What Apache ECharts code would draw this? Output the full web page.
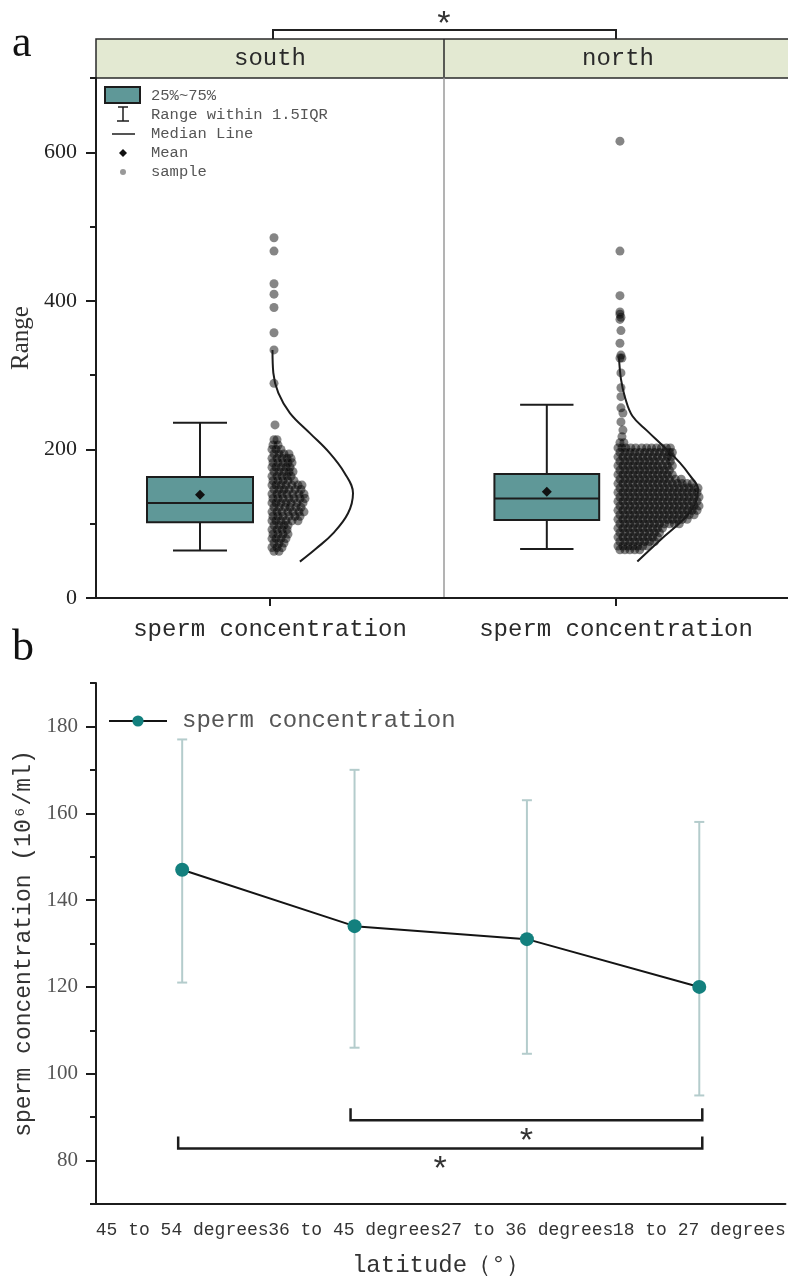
<!DOCTYPE html>
<html><head><meta charset="utf-8">
<script src="https://cdn.jsdelivr.net/npm/echarts@6/dist/echarts.min.js"></script>
<style>html,body{margin:0;padding:0;background:#fff}#main{width:788px;height:1283px}</style>
</head><body><div id="main"></div>
<script>
// ================= DATA =================
// Panel a
const groupNames = ['south', 'north'];
const categoryA = ['sperm concentration'];
const yTicksA = [0, 200, 400, 600];
const yMinorA = [100, 300, 500, 700];
// box stats: [lower whisker, Q1, median, Q3, upper whisker]
const southBox = [64, 102, 128, 163, 236];
const northBox = [66, 105, 134, 167, 260];
const southMean = 139;
const northMean = 143;
// fitted distribution curve: values and relative density
const southCurveValues  = [334, 303, 276, 249, 222, 195, 168, 141, 114, 87, 67, 49];
const southCurveDensity = [0.03, 0.04, 0.10, 0.24, 0.48, 0.72, 0.90, 1.00, 0.94, 0.76, 0.56, 0.36];
const northCurveValues  = [325, 295, 270, 245, 225, 205, 182, 165, 146, 128, 110, 83, 49];
const northCurveDensity = [0.036, 0.06, 0.11, 0.20, 0.38, 0.57, 0.78, 0.90, 1.00, 0.97, 0.86, 0.59, 0.26];
// samples: [value, [jitter offsets of the points at that value]]
const southSampleRows = [
  [485,[4]],[467,[4]],[423,[4]],[409,[4]],[391,[4]],[357,[4]],[334,[4]],[289,[4]],[233,[5]],[213,[4,7]],
  [206,[3,8]],[200,[2,6,11]],[194,[4,9,14,19]],[188,[2,7,12,17,21]],[182,[3,8,13,18,22]],[176,[2,6,11,16,20]],
  [170,[4,9,14,19,23]],[164,[2,7,12,17,21]],[158,[3,8,13,18,24]],[152,[2,6,11,16,22,28,32]],[146,[4,9,14,19,25,31]],
  [140,[2,7,12,17,23,29,34]],[134,[3,8,13,19,24,30,35]],[128,[2,6,11,16,21,27,33]],[122,[4,9,15,20,26,31]],
  [116,[2,7,12,18,23,29,34]],[110,[3,8,13,19,25,30]],[104,[2,6,11,16,22,28]],[98,[4,9,14,18]],[92,[2,7,12,17]],
  [86,[3,8,13,18]],[80,[2,6,11,16]],[74,[4,9,14]],[68,[2,7,12]],[63,[4,9]]
];
const northSampleRows = [
  [615,[4]],[467,[4]],[407,[4]],[385,[4]],[382,[4]],[378,[5]],[375,[4]],[360,[5]],[343,[4]],[327,[5]],
  [323,[4,6]],[303,[5]],[283,[5]],[271,[5]],[256,[5]],[249,[7]],[237,[5]],[226,[7]],[217,[6]],[209,[4,8]],
  [202,[2,6,10,15,20,26,31,36,41,46,51,55]],
  [196,[4,9,14,19,24,29,34,39,44,49,54,57]],
  [190,[2,7,12,17,22,27,32,37,42,47,52,56]],
  [184,[4,9,14,19,24,29,34,39,44,50,55]],
  [178,[2,7,12,17,22,27,32,37,42,47,52,57]],
  [172,[4,9,14,19,24,29,34,39,44,49,54]],
  [166,[2,7,12,17,22,27,32,37,42,47,52,57]],
  [160,[4,9,14,19,24,29,34,39,44,49,54,60,66]],
  [154,[2,7,12,17,22,27,32,37,42,47,52,57,62,67,72,77]],
  [148,[4,9,14,19,24,29,34,39,44,49,54,59,64,69,74,79,83]],
  [142,[2,7,12,17,22,27,32,37,42,47,52,57,62,67,72,77,82]],
  [136,[4,9,14,19,24,29,34,39,44,49,54,59,64,69,74,79,84]],
  [130,[2,7,12,17,22,27,32,37,42,47,52,57,62,67,72,77,82]],
  [124,[4,9,14,19,24,29,34,39,44,49,54,59,64,69,74,79,84]],
  [118,[2,7,12,17,22,27,32,37,42,47,52,57,62,67,72,77,82]],
  [112,[4,9,14,19,24,29,34,39,44,49,54,59,64,69,74,79]],
  [106,[2,7,12,17,22,27,32,37,42,47,52,57,62,67,72]],
  [100,[4,9,14,19,24,29,34,39,44,49,54,59,64]],
  [94,[2,7,12,17,22,27,32,37,42,47]],
  [88,[4,9,14,19,24,29,34,39,44]],
  [82,[2,7,12,17,22,27,32,37,42]],
  [76,[4,9,14,19,24,29,34,39]],
  [70,[2,7,12,17,22,27,32]],
  [65,[4,9,14,19,24]]
];
// Panel b
const latitudes = ['45 to 54 degrees', '36 to 45 degrees', '27 to 36 degrees', '18 to 27 degrees'];
const meanConc = [147, 134, 131, 120];
const errLow  = [121, 106, 104.6, 95];
const errHigh = [177, 170, 163, 158];
const yTicksB = [80, 100, 120, 140, 160, 180];
const yMinorB = [70, 90, 110, 130, 150, 170, 190];
const sigFrom = [1, 0];
const sigTo = [3, 3];
const sigLevel = [89.3, 82.8];
const sigMarks = ['*', '*'];
const legendB = 'sperm concentration';

// ================= STYLE =================
const MONO = 'Liberation Mono';
const SERIF = 'Liberation Serif';
const BOX_COLOR = '#5f9898';
const TEAL = '#13807e';
const ERR_COLOR = '#b4cccc';
const INK = '#1c1c1c';
const DOT = 'rgba(0,0,0,0.6)';
const BOX_X = -70, BOX_HALF = 53, CAP_HALF = 27, CURVE_W = 83;

function rowsToPoints(rows) {
  const pts = [];
  rows.forEach(r => r[1].forEach(j => pts.push([j, r[0]])));
  return pts;
}
function curvePoints(vals, dens) {
  return vals.map((v, i) => [dens[i] * CURVE_W, v]);
}
function renderBox(params, api) {
  const mn = api.value(0), q1 = api.value(1), md = api.value(2), q3 = api.value(3), mx = api.value(4), mean = api.value(5);
  const X = x => api.coord([x, 0])[0];
  const Y = v => api.coord([0, v])[1];
  const xc = X(BOX_X), xl = X(BOX_X - BOX_HALF), xr = X(BOX_X + BOX_HALF);
  const cl = X(BOX_X - CAP_HALF), cr = X(BOX_X + CAP_HALF);
  const s = { stroke: INK, lineWidth: 2 };
  const ym = Y(mean);
  return { type: 'group', children: [
    { type: 'line', shape: { x1: xc, y1: Y(q3), x2: xc, y2: Y(mx) }, style: s },
    { type: 'line', shape: { x1: cl, y1: Y(mx), x2: cr, y2: Y(mx) }, style: s },
    { type: 'line', shape: { x1: xc, y1: Y(q1), x2: xc, y2: Y(mn) }, style: s },
    { type: 'line', shape: { x1: cl, y1: Y(mn), x2: cr, y2: Y(mn) }, style: s },
    { type: 'rect', shape: { x: xl, y: Y(q3), width: xr - xl, height: Y(q1) - Y(q3) }, style: { fill: BOX_COLOR, stroke: INK, lineWidth: 2 } },
    { type: 'line', shape: { x1: xl, y1: Y(md), x2: xr, y2: Y(md) }, style: s },
    { type: 'polygon', shape: { points: [[xc, ym - 5], [xc + 5, ym], [xc, ym + 5], [xc - 5, ym]] }, style: { fill: '#111' } }
  ]};
}
function renderErr(params, api) {
  const i = api.value(0);
  const lo = api.coord([i, api.value(1)]), hi = api.coord([i, api.value(2)]);
  const s = { stroke: ERR_COLOR, lineWidth: 2 };
  return { type: 'group', children: [
    { type: 'line', shape: { x1: lo[0], y1: lo[1], x2: hi[0], y2: hi[1] }, style: s },
    { type: 'line', shape: { x1: lo[0] - 5, y1: lo[1], x2: lo[0] + 5, y2: lo[1] }, style: s },
    { type: 'line', shape: { x1: hi[0] - 5, y1: hi[1], x2: hi[0] + 5, y2: hi[1] }, style: s }
  ]};
}
function renderSig(params, api) {
  const a = api.coord([api.value(0), api.value(2)]);
  const b = api.coord([api.value(1), api.value(2)]);
  const x1 = a[0] - 4, x2 = b[0] + 3, yl = a[1];
  return { type: 'group', children: [
    { type: 'polyline', shape: { points: [[x1, yl - 12], [x1, yl], [x2, yl], [x2, yl - 12]] }, style: { stroke: INK, lineWidth: 2.5, fill: 'none' } },
    { type: 'text', style: { text: sigMarks[params.dataIndex], x: (x1 + x2) / 2, y: yl + 23, align: 'center', verticalAlign: 'middle', font: '34px ' + MONO, fill: '#333' } }
  ]};
}

const catAxisA = (grid) => ({
  type: 'category', gridIndex: grid, data: categoryA, position: 'bottom',
  axisLine: { show: true, onZero: false, lineStyle: { color: INK, width: 2 } },
  axisTick: { show: true, alignWithLabel: true, length: 8, lineStyle: { color: INK, width: 2 } },
  axisLabel: { color: '#2a2a2a', fontFamily: MONO, fontSize: 24, margin: 20 },
  splitLine: { show: false }
});
const valXAxis = (grid) => ({ type: 'value', gridIndex: grid, min: -174, max: 174, show: false });

const option = {
  animation: false,
  backgroundColor: '#fff',
  grid: [
    { left: 96, top: 78, right: 344, bottom: 685 },
    { left: 444, top: 78, right: -4, bottom: 685 },
    { left: 96, top: 683, right: -3, bottom: 79 }
  ],
  xAxis: [
    catAxisA(0), valXAxis(0), catAxisA(1), valXAxis(1),
    {
      type: 'category', gridIndex: 2, data: latitudes, position: 'bottom',
      axisLine: { onZero: false, lineStyle: { color: INK, width: 2 } },
      axisTick: { alignWithLabel: true, length: 8, lineStyle: { color: INK, width: 2 } },
      axisLabel: { color: '#333', fontFamily: MONO, fontSize: 18, margin: 17, interval: 0 },
      name: 'latitude（°）', nameLocation: 'middle', nameGap: 50,
      nameTextStyle: { color: '#333', fontFamily: MONO, fontSize: 24 }
    }
  ],
  yAxis: [
    {
      type: 'value', gridIndex: 0, min: 0, max: 700, position: 'left',
      axisLine: { show: true, onZero: false, lineStyle: { color: INK, width: 2 } },
      axisTick: { show: true, customValues: yTicksA, length: 10, lineStyle: { color: INK, width: 2 } },
      axisLabel: { customValues: yTicksA, color: '#222', fontFamily: SERIF, fontSize: 22, margin: 19 },
      splitLine: { show: false },
      name: 'Range', nameLocation: 'middle', nameGap: 62,
      nameTextStyle: { color: '#333', fontFamily: SERIF, fontSize: 25 }
    },
    {
      type: 'value', gridIndex: 0, min: 0, max: 700, position: 'left',
      axisLine: { show: false, onZero: false }, axisLabel: { show: false }, splitLine: { show: false },
      axisTick: { show: true, customValues: yMinorA, length: 6, lineStyle: { color: INK, width: 2 } }
    },
    {
      type: 'value', gridIndex: 1, min: 0, max: 700, position: 'left',
      axisLine: { show: true, onZero: false, lineStyle: { color: '#9a9a9a', width: 1.5 } },
      axisTick: { show: false }, axisLabel: { show: false }, splitLine: { show: false }
    },
    {
      type: 'value', gridIndex: 2, min: 70, max: 190, interval: 10, position: 'left',
      axisLine: { show: true, onZero: false, lineStyle: { color: INK, width: 2 } },
      axisTick: { show: true, customValues: yTicksB, length: 10, lineStyle: { color: INK, width: 2 } },
      axisLabel: { customValues: yTicksB, color: '#555', fontFamily: SERIF, fontSize: 21, margin: 18 },
      splitLine: { show: false },
      name: 'sperm concentration (10⁶/ml)', nameLocation: 'middle', nameGap: 56,
      nameTextStyle: { color: '#333', fontFamily: MONO, fontSize: 23 }
    },
    {
      type: 'value', gridIndex: 2, min: 70, max: 190, interval: 10, position: 'left',
      axisLine: { show: false, onZero: false }, axisLabel: { show: false }, splitLine: { show: false },
      axisTick: { show: true, customValues: yMinorB, length: 6, lineStyle: { color: INK, width: 2 } }
    }
  ],
  legend: {
    data: [legendB], left: 103, top: 704, itemWidth: 58, itemHeight: 14,
    textStyle: { fontFamily: MONO, fontSize: 24, color: '#555', padding: [0, 0, 0, 10] }
  },
  series: [
    { name: 'south box', type: 'custom', xAxisIndex: 1, yAxisIndex: 0, renderItem: renderBox, clip: false,
      data: [[...southBox, southMean]], z: 3 },
    { name: 'south samples', type: 'scatter', xAxisIndex: 1, yAxisIndex: 0, symbolSize: 9,
      itemStyle: { color: DOT }, data: rowsToPoints(southSampleRows), z: 2 },
    { name: 'south curve', type: 'line', xAxisIndex: 1, yAxisIndex: 0, symbol: 'none', smooth: 0.4,
      lineStyle: { color: INK, width: 2 }, data: curvePoints(southCurveValues, southCurveDensity), z: 4 },
    { name: 'north box', type: 'custom', xAxisIndex: 3, yAxisIndex: 2, renderItem: renderBox, clip: false,
      data: [[...northBox, northMean]], z: 3 },
    { name: 'north samples', type: 'scatter', xAxisIndex: 3, yAxisIndex: 2, symbolSize: 9,
      itemStyle: { color: DOT }, data: rowsToPoints(northSampleRows), z: 2 },
    { name: 'north curve', type: 'line', xAxisIndex: 3, yAxisIndex: 2, symbol: 'none', smooth: 0.4,
      lineStyle: { color: INK, width: 2 }, data: curvePoints(northCurveValues, northCurveDensity), z: 4 },
    { name: 'error', type: 'custom', xAxisIndex: 4, yAxisIndex: 3, renderItem: renderErr,
      encode: { x: 0, y: [1, 2] }, data: meanConc.map((m, i) => [i, errLow[i], errHigh[i]]), z: 2 },
    { name: legendB, type: 'line', xAxisIndex: 4, yAxisIndex: 3, data: meanConc,
      symbol: 'circle', symbolSize: 14, itemStyle: { color: TEAL }, lineStyle: { color: '#141414', width: 2 }, z: 5 },
    { name: 'sig', type: 'custom', xAxisIndex: 4, yAxisIndex: 3, renderItem: renderSig, clip: false,
      encode: { x: [0, 1], y: 2 }, data: sigFrom.map((f, i) => [f, sigTo[i], sigLevel[i]]), z: 4 }
  ],
  graphic: [
    { type: 'text', left: 12, top: 22, style: { text: 'a', font: '44px ' + SERIF, fill: '#111' } },
    { type: 'text', left: 12, top: 626, style: { text: 'b', font: '44px ' + SERIF, fill: '#111' } },
    { type: 'rect', shape: { x: 96, y: 39, width: 700, height: 39 }, style: { fill: '#e3e9d2', stroke: '#2a2a2a', lineWidth: 1.5 } },
    { type: 'line', shape: { x1: 444, y1: 39, x2: 444, y2: 78 }, style: { stroke: '#2a2a2a', lineWidth: 1.5 } },
    { type: 'text', style: { text: groupNames[0], x: 270, y: 59, align: 'center', verticalAlign: 'middle', font: '24px ' + MONO, fill: '#2a2a2a' } },
    { type: 'text', style: { text: groupNames[1], x: 618, y: 59, align: 'center', verticalAlign: 'middle', font: '24px ' + MONO, fill: '#2a2a2a' } },
    { type: 'polyline', shape: { points: [[273, 39], [273, 30], [616, 30], [616, 39]] }, style: { stroke: '#222', lineWidth: 2, fill: 'none' } },
    { type: 'text', style: { text: '*', x: 444, y: 26, align: 'center', verticalAlign: 'middle', font: '34px ' + MONO, fill: '#333' } },
    // panel a legend
    { type: 'rect', shape: { x: 105, y: 87, width: 35, height: 16 }, style: { fill: BOX_COLOR, stroke: INK, lineWidth: 2 } },
    { type: 'line', shape: { x1: 118, y1: 107, x2: 128, y2: 107 }, style: { stroke: INK, lineWidth: 1.5 } },
    { type: 'line', shape: { x1: 123, y1: 107, x2: 123, y2: 121 }, style: { stroke: INK, lineWidth: 1.5 } },
    { type: 'line', shape: { x1: 117, y1: 121, x2: 129, y2: 121 }, style: { stroke: INK, lineWidth: 1.5 } },
    { type: 'line', shape: { x1: 112, y1: 134, x2: 135, y2: 134 }, style: { stroke: INK, lineWidth: 1.5 } },
    { type: 'polygon', shape: { points: [[123, 149], [127, 153], [123, 157], [119, 153]] }, style: { fill: '#111' } },
    { type: 'circle', shape: { cx: 123, cy: 172, r: 3 }, style: { fill: '#999' } },
    { type: 'text', style: { text: '25%~75%', x: 151, y: 96, verticalAlign: 'middle', font: '15.5px ' + MONO, fill: '#555' } },
    { type: 'text', style: { text: 'Range within 1.5IQR', x: 151, y: 115, verticalAlign: 'middle', font: '15.5px ' + MONO, fill: '#555' } },
    { type: 'text', style: { text: 'Median Line', x: 151, y: 134, verticalAlign: 'middle', font: '15.5px ' + MONO, fill: '#555' } },
    { type: 'text', style: { text: 'Mean', x: 151, y: 153, verticalAlign: 'middle', font: '15.5px ' + MONO, fill: '#555' } },
    { type: 'text', style: { text: 'sample', x: 151, y: 172, verticalAlign: 'middle', font: '15.5px ' + MONO, fill: '#555' } }
  ]
};
const chart = echarts.init(document.getElementById('main'), null, { renderer: 'canvas' });
chart.setOption(option);
</script></body></html>
